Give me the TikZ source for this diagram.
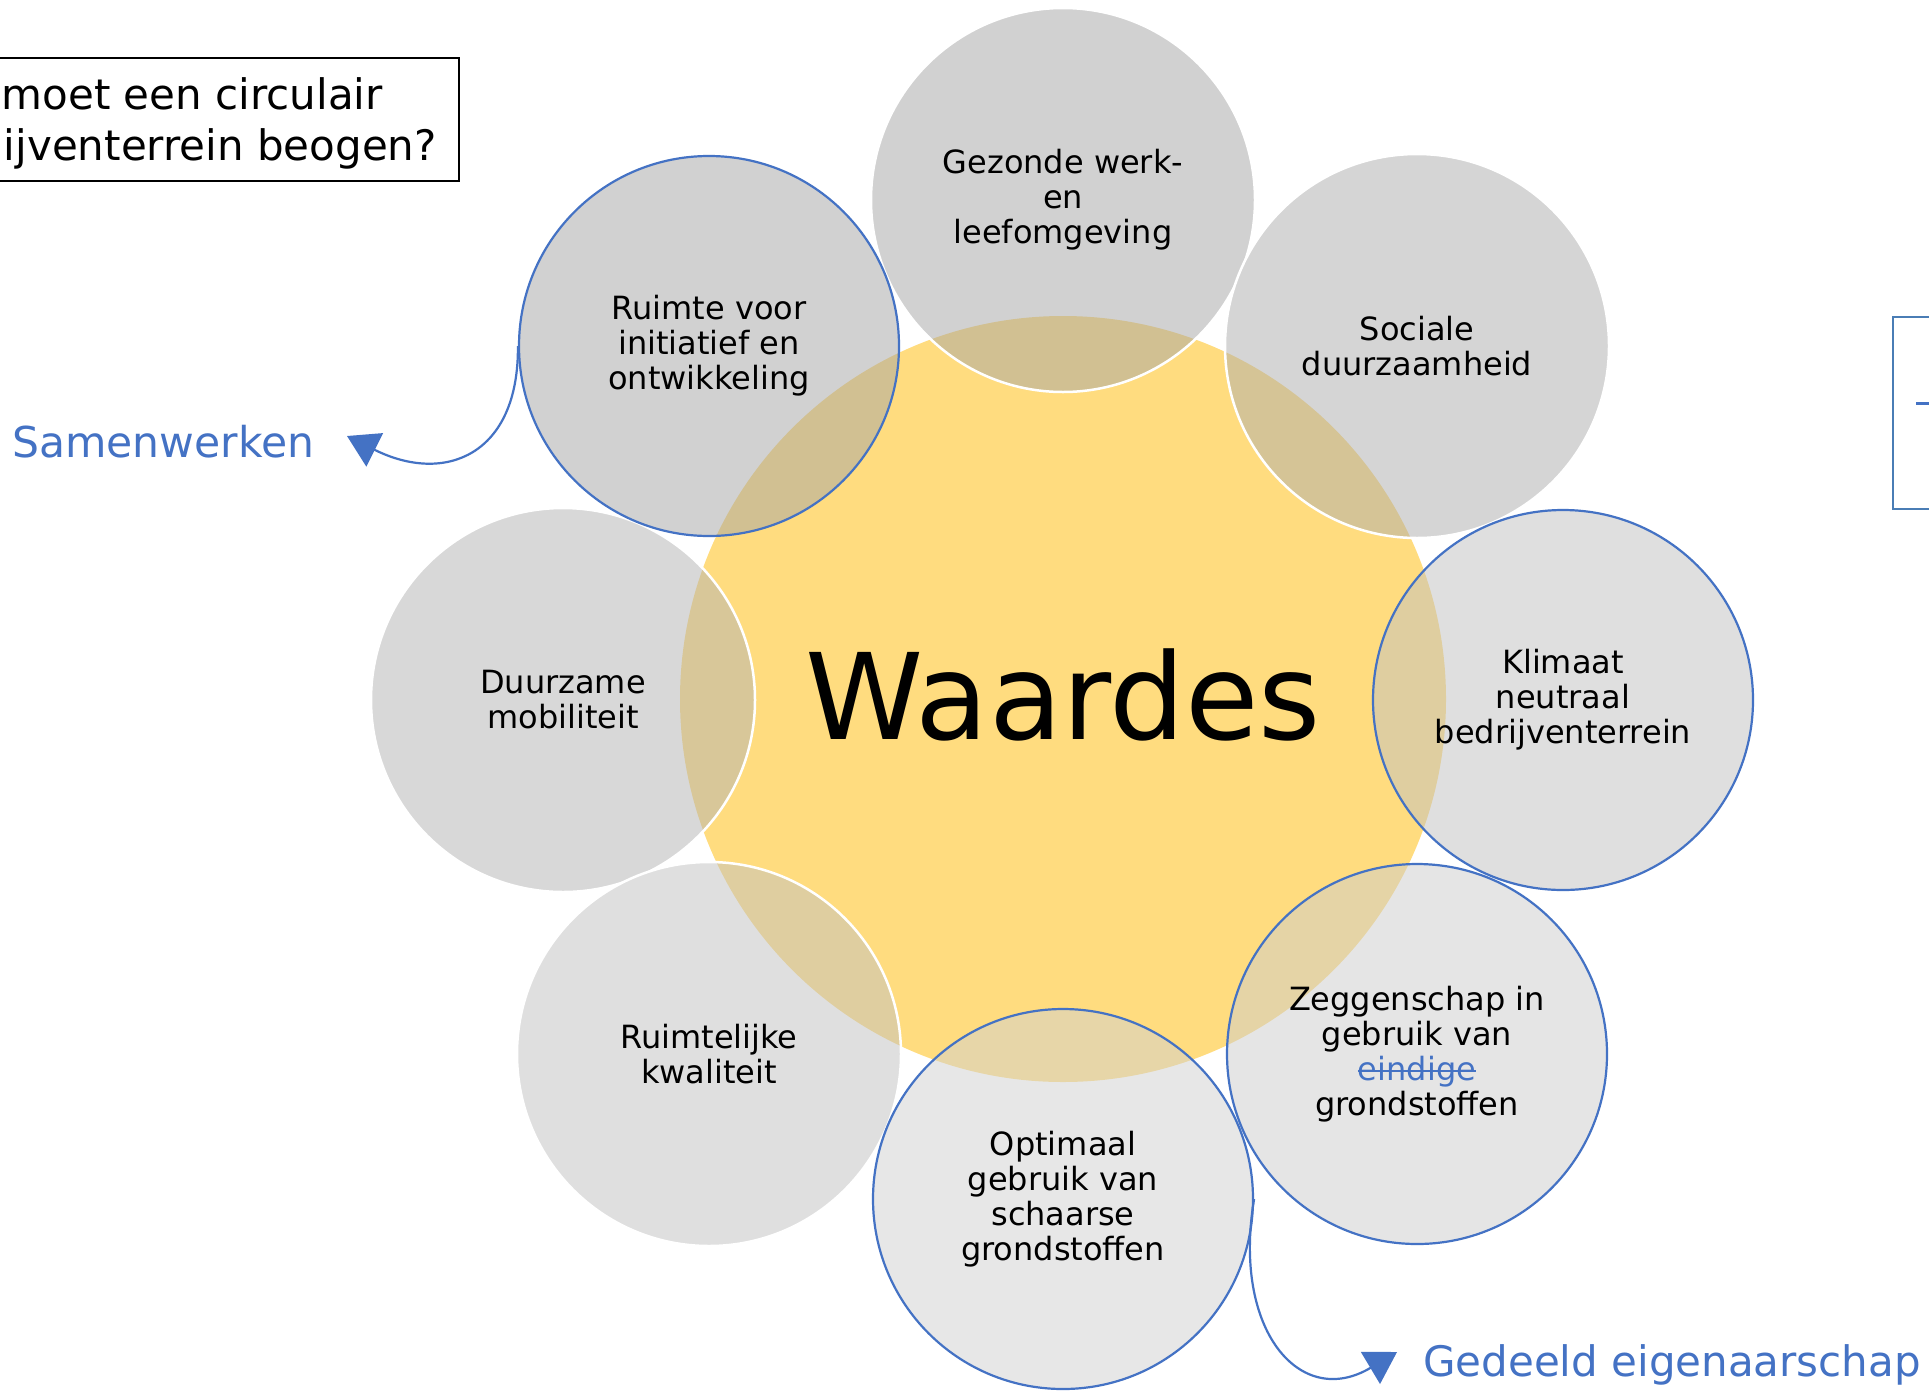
\documentclass[tikz,border=0pt]{standalone}
\usepackage{fontspec}
\setmainfont{DejaVu Sans}
\usetikzlibrary{arrows.meta}
\definecolor{cyellow}{HTML}{FFDC7F}
\definecolor{cblue}{HTML}{4472C4}
\definecolor{cbox}{HTML}{4A7DB5}
\definecolor{gA}{HTML}{A5A5A5}
\definecolor{gB}{HTML}{ADADAD}
\definecolor{gC}{HTML}{C1C1C1}
\definecolor{gD}{HTML}{CDCDCD}
\definecolor{gE}{HTML}{D1D1D1}
\definecolor{gF}{HTML}{B3B3B3}
\newcommand{\mystrike}[1]{\setbox0=\hbox{#1}\rlap{\raisebox{0.27em}{\rule{\wd0}{1.8pt}}}\box0}
\begin{document}
\begin{tikzpicture}[x=1pt,y=-1pt,
  sat/.style={circle, minimum size=384pt, inner sep=0pt, fill opacity=0.5, text opacity=1,
    align=center, font=\fontsize{32}{35}\selectfont, draw=white, line width=2.5pt},
  satb/.style={sat, minimum size=380pt, draw=cblue, line width=2.2pt},
  lbl/.style={text=cblue, font=\fontsize{42}{50}\selectfont, inner sep=0pt},
  conn/.style={cblue, line width=2.2pt, -{Triangle[length=31pt,width=37pt]}},
  ttl/.style={font=\fontsize{42}{50}\selectfont, inner sep=0pt},
]
\useasboundingbox (0,0) rectangle (1929,1390);
\fill[white] (0,0) rectangle (1929,1390);

% central circle
\node[circle, fill=cyellow, minimum size=766pt, inner sep=0pt] (centre) at (1063,699) {};
\node[font=\fontsize{119.5}{130}\selectfont, inner sep=0pt, anchor=base] (waardes) at (1063,739) {Waardes};

% satellites
\node[sat, fill=gA] (gez) at (1063,200) {Gezonde werk-\\en\\leefomgeving};
\node[sat, fill=gB] (soc) at (1417,346) {Sociale\\duurzaamheid};
\node[sat, fill=gF] (duu) at (563,700) {Duurzame\\mobiliteit};
\node[sat, fill=gC] (rtl) at (709,1054) {Ruimtelijke\\kwaliteit};
\node[satb, fill=gA] (rui) at (709,346) {Ruimte voor\\initiatief en\\ontwikkeling};
\node[satb, fill=gC] (kli) at (1563,700) {Klimaat\\neutraal\\bedrijventerrein};
\node[satb, fill=gD] (zeg) at (1417,1054) {Zeggenschap in\\gebruik van\\{\color{cblue}\mystrike{eindige}}\\grondstoffen};
\node[satb, fill=gE] (opt) at (1063,1199) {Optimaal\\gebruik van\\schaarse\\grondstoffen};

% labels
\node[lbl, font=\fontsize{42.5}{50}\selectfont, anchor=base west] (samen) at (12,457) {Samenwerken};
\node[lbl, anchor=base west] (gedeeld) at (1423,1376) {Gedeeld eigenaarschap};
\coordinate (tipS) at (347,436);
\coordinate (tipG) at (1397,1352);

% connectors
\draw[conn] (rui.west) .. controls (519,455) and (445,485) .. (tipS);
\draw[conn] (opt.east) .. controls (1232,1330) and (1300,1410) .. (tipG);

% title box (partly outside the picture)
\draw[black, line width=2pt] (0,58) -- (459,58) -- (459,181) -- (0,181);
\node[ttl, anchor=base east] (t1) at (383,109) {moet een circulair};
\node[ttl, anchor=base east] (t2) at (437,160) {ijventerrein beogen?};

% right box (partly outside the picture)
\draw[cbox, line width=2.5pt] (1929,317) -- (1893,317) -- (1893,509) -- (1929,509);
\draw[cblue, line width=3pt] (1916,403) -- (1929,403);
\end{tikzpicture}
\end{document}
